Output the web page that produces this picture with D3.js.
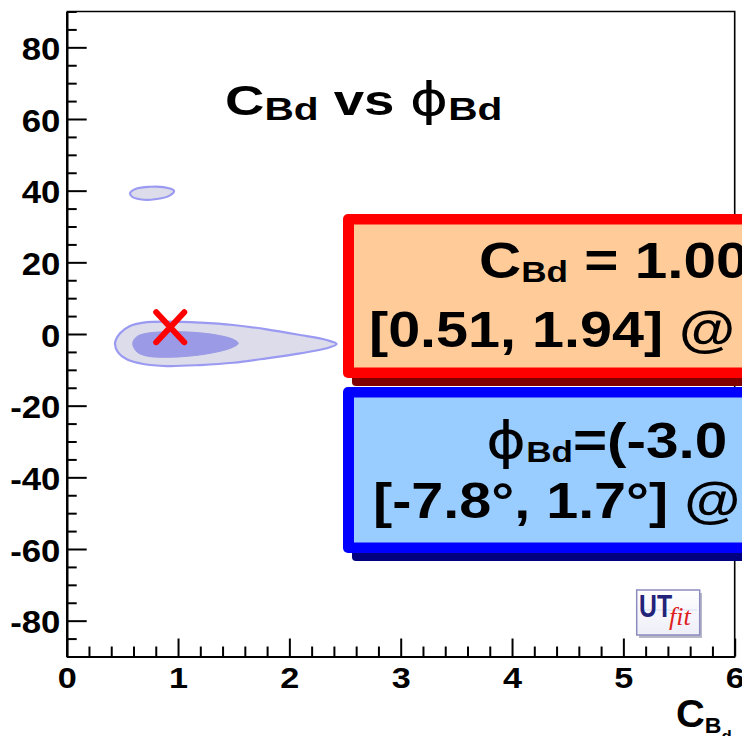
<!DOCTYPE html>
<html>
<head>
<meta charset="utf-8">
<script src="https://cdn.jsdelivr.net/npm/d3@7"></script>
<style>
  html, body { margin: 0; padding: 0; background: #fff; overflow: hidden; }
  svg { display: block; }
  text { white-space: pre; }
</style>
</head>
<body>
<svg id="chart" width="742" height="736"></svg>
<script>
// Axis ranges and ticks
const xDomain = [0, 6];
const yDomain = [-90, 90];
const xMajorTicks = [0, 1, 2, 3, 4, 5, 6];
const yMajorTicks = [-80, -60, -40, -20, 0, 20, 40, 60, 80];
const xMinorStep = 0.2;
const yMinorStep = 5;

// 95% probability region (light) and 68% region (dark), as [C_Bd, phi_Bd(deg)] boundaries
const region95Main = [
  [0.434, -2.6], [0.479, 0.2], [0.569, 2.23], [0.688, 3.16], [0.898, 3.44],
  [1.197, 3.16], [1.496, 2.51], [1.796, 1.31], [2.096, -0.28], [2.335, -1.68],
  [2.425, -2.79], [2.335, -3.99], [2.096, -5.39], [1.796, -6.79], [1.496, -8.02],
  [1.197, -8.66], [0.898, -8.94], [0.688, -8.38], [0.539, -7.07], [0.463, -5.22]
];
const region95Island = [
  [0.569, 39.3], [0.629, 40.6], [0.748, 41.1], [0.868, 41.0], [0.964, 40.0],
  [0.928, 38.7], [0.793, 37.6], [0.658, 37.6], [0.587, 38.3]
];
const region68 = [
  [0.593, -2.6], [0.629, -0.75], [0.719, 0.2], [0.898, 0.64], [1.137, 0.47],
  [1.347, -0.28], [1.496, -1.48], [1.541, -2.6], [1.482, -3.83], [1.317, -5.22],
  [1.108, -6.15], [0.898, -6.51], [0.719, -6.15], [0.629, -4.94]
];
// Reference point marker
const refPoint = [0.93, 1.9];

// Result box texts
const cLine1 = [{t: "C", s: 50}, {t: "Bd", s: 30, dy: 4}, {t: " = 1.00", s: 50}];
const cLine2 = [{t: "[0.51, 1.94] @", s: 50}];
const phiLine1 = [{t: "\u03D5", s: 52, f: "DejaVu Sans", w: "normal"}, {t: "Bd", s: 30, dy: 4}, {t: "=(-3.0", s: 50}];
const phiLine2 = [{t: "[-7.8\u00B0, 1.7\u00B0] @", s: 50}];
const titleRuns = [{t: "C", s: 43}, {t: "Bd", s: 32, dy: 5}, {t: " vs ", s: 43}, {t: "\u03D5", s: 46, f: "DejaVu Sans", w: "normal"}, {t: "Bd", s: 32, dy: 5}];

const FONT = "'Liberation Sans', Arial, Helvetica, sans-serif";
const SX = 1.14;
const fmt = d => String(d);

const svg = d3.select("#chart");
svg.append("rect").attr("width", 742).attr("height", 736).attr("fill", "#fff");

const x = d3.scaleLinear().domain(xDomain).range([66.7, 734.7]);
const y = d3.scaleLinear().domain(yDomain).range([656.5, 11.5]);

// Contours
const contourLine = d3.line()
  .x(d => x(d[0])).y(d => y(d[1]))
  .curve(d3.curveCatmullRomClosed.alpha(0.5));

const gC = svg.append("g");
[region95Main, region95Island].forEach(r => {
  gC.append("path").attr("d", contourLine(r))
    .attr("fill", "#dcdcea").attr("stroke", "#9a9af2").attr("stroke-width", 2.2);
});
gC.append("path").attr("d", contourLine(region68))
  .attr("fill", "#9a9ae6").attr("stroke", "#9a9ae6").attr("stroke-width", 1);

// Frame (top and right)
svg.append("path")
  .attr("d", `M${x(0)},${y(90)}H${x(6)}V${y(-90)}`)
  .attr("fill", "none").attr("stroke", "#000").attr("stroke-width", 1.6);

// Axes
const xMinor = d3.range(0, 6.0001, xMinorStep).filter(v => Math.abs(v - Math.round(v)) > 1e-6);
const yMinor = d3.range(-90, 90.0001, yMinorStep).filter(v => v % 20 !== 0);

function styleAxis(g) {
  g.selectAll("path, line").attr("stroke", "#000").attr("stroke-width", 2);
}

svg.append("g").attr("transform", `translate(0,${y(-90)})`)
  .call(d3.axisBottom(x).tickValues(xMinor).tickSize(-10).tickSizeOuter(0).tickFormat(""))
  .call(styleAxis);
const gx = svg.append("g").attr("transform", `translate(0,${y(-90)})`)
  .call(d3.axisBottom(x).tickValues(xMajorTicks).tickSize(-18).tickSizeOuter(0).tickPadding(10.5).tickFormat(fmt))
  .call(styleAxis);
gx.selectAll("text").attr("font-family", FONT).attr("font-weight", "bold")
  .attr("font-size", 30).attr("fill", "#000").attr("transform", `scale(${SX},1)`);

svg.append("g").attr("transform", `translate(${x(0)},0)`)
  .call(d3.axisLeft(y).tickValues(yMinor).tickSize(-10).tickSizeOuter(0).tickFormat(""))
  .call(styleAxis);
const gy = svg.append("g").attr("transform", `translate(${x(0)},0)`)
  .call(d3.axisLeft(y).tickValues(yMajorTicks).tickSize(-20).tickSizeOuter(0).tickPadding(5.5).tickFormat(fmt))
  .call(styleAxis);
gy.selectAll("text").attr("font-family", FONT).attr("font-weight", "bold")
  .attr("font-size", 30.5).attr("fill", "#000").attr("dy", "0.4em").attr("transform", `scale(${SX},1)`);
svg.selectAll(".domain").attr("stroke-width", 2.2);

// Rich text helper: runs with optional subscript offsets
function rich(parent, px, py, sx, runs) {
  const t = parent.append("text")
    .attr("transform", `translate(${px},${py}) scale(${sx},1)`)
    .attr("font-family", FONT).attr("font-weight", "bold").attr("fill", "#000");
  let cur = 0;
  runs.forEach(r => {
    const ts = t.append("tspan").text(r.t).attr("font-size", r.s);
    const target = r.dy || 0;
    if (target !== cur) ts.attr("dy", target - cur);
    cur = target;
    if (r.f) ts.attr("font-family", r.f);
    if (r.w) ts.attr("font-weight", r.w);
  });
  return t;
}

// Title
rich(svg, 225, 115, 1.27, titleRuns);

// Axis title C_{B_d}
rich(svg, 676, 727, 1.05, [{t: "C", s: 38}, {t: "B", s: 22, dy: 6}, {t: "d", s: 16, dy: 15}]);

// Reference marker
const mx = x(refPoint[0]), my = y(refPoint[1]);
svg.append("path")
  .attr("d", `M${mx - 14},${my - 15}L${mx + 14},${my + 15}M${mx + 14},${my - 15}L${mx - 14},${my + 15}`)
  .attr("stroke", "#ff0000").attr("stroke-width", 6).attr("stroke-linecap", "round");

// UTfit logo
const defs = svg.append("defs");
const lg = defs.append("linearGradient").attr("id", "logoFill").attr("x1", 0).attr("y1", 0).attr("x2", 0).attr("y2", 1);
lg.append("stop").attr("offset", "0%").attr("stop-color", "#ffffff");
lg.append("stop").attr("offset", "100%").attr("stop-color", "#eeeef8");
svg.append("rect").attr("x", 639).attr("y", 593).attr("width", 63).attr("height", 45).attr("fill", "#b8b8c8");
svg.append("rect").attr("x", 636.7).attr("y", 590).attr("width", 63).attr("height", 45)
  .attr("fill", "url(#logoFill)").attr("stroke", "#8c8cc0").attr("stroke-width", 1.5);
svg.append("line").attr("x1", 640).attr("x2", 697).attr("y1", 610).attr("y2", 610).attr("stroke", "#d8e0f4").attr("stroke-width", 1);
svg.append("text").attr("transform", "translate(639,617) scale(0.8,1)")
  .attr("font-family", FONT).attr("font-weight", "bold").attr("font-size", 31).attr("fill", "#23237a").text("UT");
svg.append("text").attr("x", 669).attr("y", 625)
  .attr("font-family", "'Liberation Serif', 'Times New Roman', serif").attr("font-style", "italic")
  .attr("font-size", 26).attr("fill", "#e02020").text("fit");

// Result boxes
function resultBox(top, h, stroke, fill, shadow) {
  svg.append("rect").attr("x", 352).attr("y", top + 8).attr("width", 420).attr("height", h).attr("rx", 4).attr("fill", shadow);
  svg.append("rect").attr("x", 343).attr("y", top).attr("width", 420).attr("height", h).attr("rx", 5).attr("fill", stroke);
  svg.append("rect").attr("x", 354).attr("y", top + 10.5).attr("width", 420).attr("height", h - 21).attr("fill", fill);
}
resultBox(214, 164, "#ff0000", "#ffcc99", "#800000");
resultBox(387, 166, "#0000ff", "#99ccff", "#000080");

rich(svg, 479, 278, 1.17, cLine1);
rich(svg, 369, 346.5, 1.15, cLine2);
rich(svg, 486, 458, 1.17, phiLine1);
rich(svg, 373, 518, 1.15, phiLine2);
</script>
</body>
</html>
